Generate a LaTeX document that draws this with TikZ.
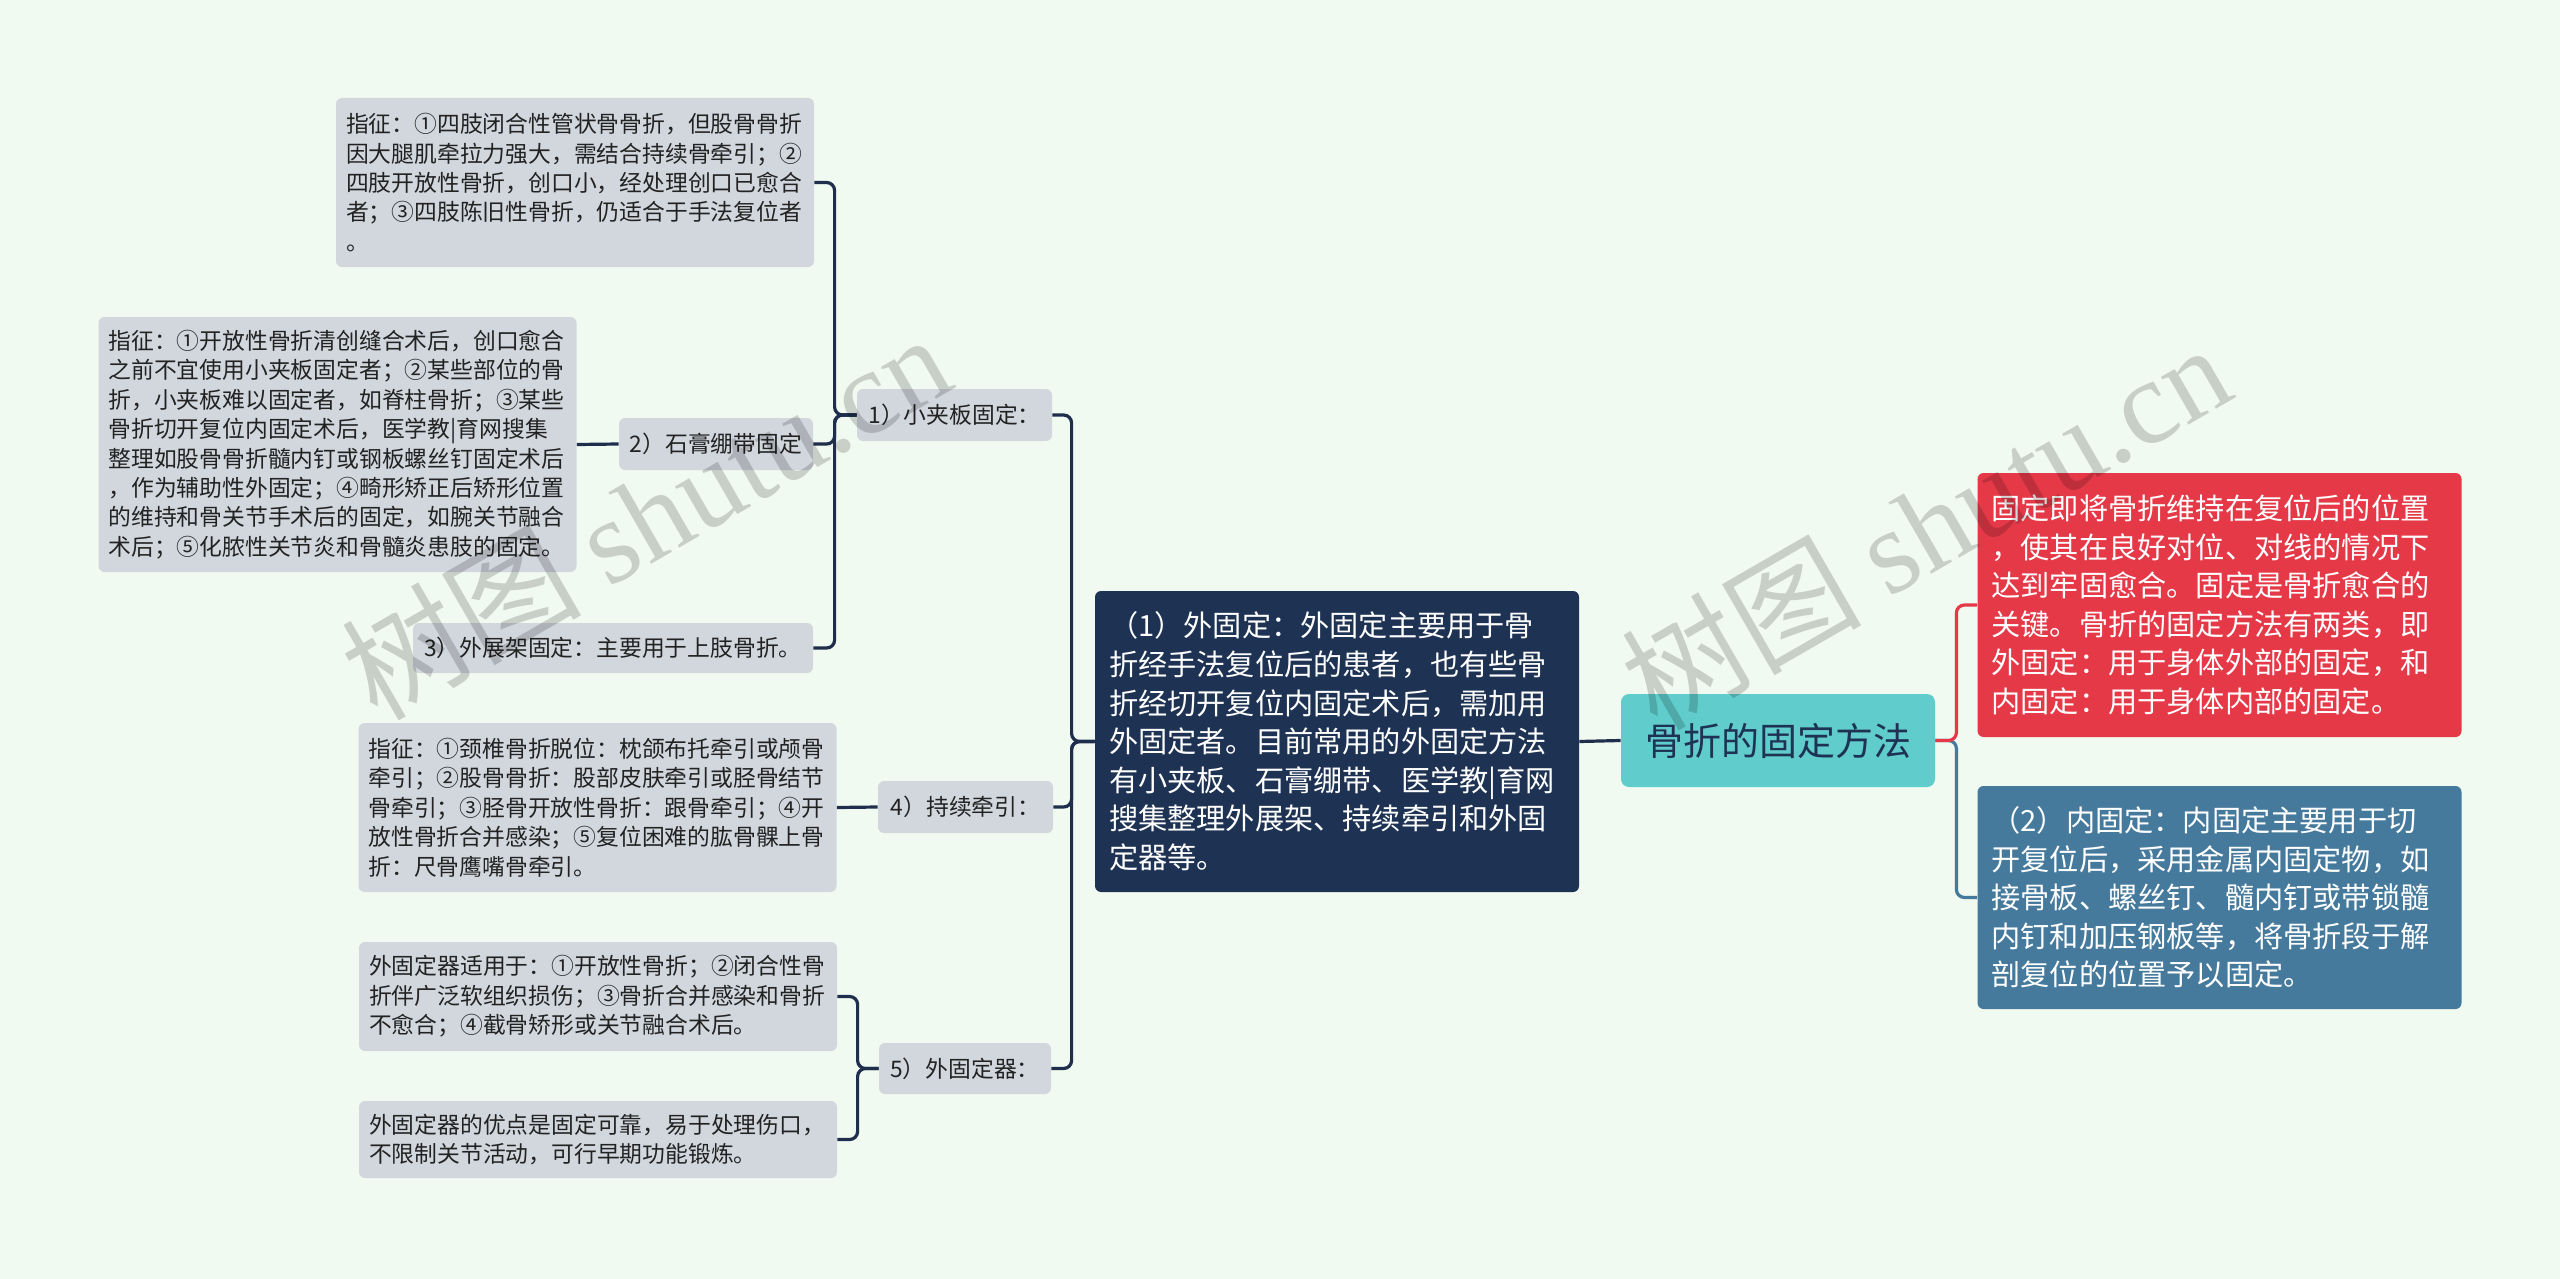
\documentclass[tikz,border=0pt]{standalone}
\usepackage{fontspec}
\setmainfont{Noto Sans CJK SC}
\newfontfamily\wmserif{Liberation Serif}
\usepackage{tikz}
\usetikzlibrary{positioning,calc}

\definecolor{bgmint}{RGB}{241,250,240}
\definecolor{leafgrey}{RGB}{210,215,222}
\definecolor{inkdark}{RGB}{34,34,34}
\definecolor{navy}{RGB}{30,51,84}
\definecolor{linknavy}{RGB}{30,46,76}
\definecolor{rootteal}{RGB}{97,204,204}
\definecolor{defred}{RGB}{230,57,72}
\definecolor{intblue}{RGB}{70,122,157}

\begin{document}
\begin{tikzpicture}[x=0.5pt,y=-0.5pt,
  leaf/.style={fill=leafgrey, rounded corners=3pt, text=inkdark, align=left,
    font=\fontsize{11.4}{14.7}\selectfont, inner xsep=5pt, inner ysep=0pt, text width=229pt},
  tag/.style={fill=leafgrey, rounded corners=3pt, text=inkdark, align=center,
    font=\fontsize{11.4}{14.7}\selectfont, inner sep=0pt},
  big/.style={rounded corners=3pt, text=white, align=left,
    font=\fontsize{14.6}{19.3}\selectfont, inner xsep=7pt, inner ysep=0pt, text width=228pt},
  link/.style={draw=linknavy, line width=1.6pt, rounded corners=4pt},
  wm/.style={text=black, text opacity=0.17, font=\fontsize{60}{60}\selectfont, rotate=30}]

\useasboundingbox (0,0) rectangle (2560,1279);
\fill[bgmint] (0,0) rectangle (2560,1279);

\node[fill=rootteal, rounded corners=4pt, text=navy, minimum width=157pt, minimum height=46.5pt,
  inner sep=0pt, font=\fontsize{19}{24}\selectfont] (root) at (1778,740.5) {骨折的固定方法};

\node[big, fill=navy, minimum height=150.5pt] (ext) at (1337,741.5) {（1）外固定：外固定主要用于骨\\折经手法复位后的患者，也有些骨\\折经切开复位内固定术后，需加用\\外固定者。目前常用的外固定方法\\有小夹板、石膏绷带、医学教|育网\\搜集整理外展架、持续牵引和外固\\定器等。};
\node[big, fill=defred, minimum height=132pt] (def) at (2219.5,605) {固定即将骨折维持在复位后的位置\\，使其在良好对位、对线的情况下\\达到牢固愈合。固定是骨折愈合的\\关键。骨折的固定方法有两类，即\\外固定：用于身体外部的固定，和\\内固定：用于身体内部的固定。};
\node[big, fill=intblue, minimum height=111.5pt] (intf) at (2219.5,897.5) {（2）内固定：内固定主要用于切\\开复位后，采用金属内固定物，如\\接骨板、螺丝钉、髓内钉或带锁髓\\内钉和加压钢板等，将骨折段于解\\剖复位的位置予以固定。};

\node[tag, minimum width=97.5pt, minimum height=26pt] (n1) at (954.5,415) {1）小夹板固定：};
\node[tag, minimum width=97pt, minimum height=26pt] (n2) at (716,444) {2）石膏绷带固定};
\node[tag, minimum width=200pt, minimum height=25pt] (n3) at (613,648) {3）外展架固定：主要用于上肢骨折。};
\node[tag, minimum width=87.5pt, minimum height=26pt] (n4) at (965.5,807) {4）持续牵引：};
\node[tag, minimum width=86pt, minimum height=25.5pt] (n5) at (965,1068.5) {5）外固定器：};

\node[leaf, minimum height=84.5pt] (ind1) at (575,182.5) {指征：①四肢闭合性管状骨骨折，但股骨骨折\\因大腿肌牵拉力强大，需结合持续骨牵引；②\\四肢开放性骨折，创口小，经处理创口已愈合\\者；③四肢陈旧性骨折，仍适合于手法复位者\\。};
\node[leaf, minimum height=127.5pt] (ind2) at (337.5,444.5) {指征：①开放性骨折清创缝合术后，创口愈合\\之前不宜使用小夹板固定者；②某些部位的骨\\折，小夹板难以固定者，如脊柱骨折；③某些\\骨折切开复位内固定术后，医学教|育网搜集\\整理如股骨骨折髓内钉或钢板螺丝钉固定术后\\，作为辅助性外固定；④畸形矫正后矫形位置\\的维持和骨关节手术后的固定，如腕关节融合\\术后；⑤化脓性关节炎和骨髓炎患肢的固定。};
\node[leaf, minimum height=84.5pt] (ind4) at (597.5,807.5) {指征：①颈椎骨折脱位：枕颌布托牵引或颅骨\\牵引；②股骨骨折：股部皮肤牵引或胫骨结节\\骨牵引；③胫骨开放性骨折：跟骨牵引；④开\\放性骨折合并感染；⑤复位困难的肱骨髁上骨\\折：尺骨鹰嘴骨牵引。};
\node[leaf, minimum height=54.5pt] (use5) at (598,996.5) {外固定器适用于：①开放性骨折；②闭合性骨\\折伴广泛软组织损伤；③骨折合并感染和骨折\\不愈合；④截骨矫形或关节融合术后。};
\node[leaf, minimum height=38.5pt] (adv5) at (598,1139.5) {外固定器的优点是固定可靠，易于处理伤口，\\不限制关节活动，可行早期功能锻炼。};

\draw[link] (ext.east) -- (root.west);
\draw[link, draw=intblue] (root.east) -- ++(21,0) |- (intf.west);
\draw[link, draw=defred] (root.east) -- ++(21,0) |- (def.west);
\draw[link] (ext.west) -- ++(-23,0) |- (n1.east);
\draw[link] (ext.west) -- ++(-23,0) |- (n4.east);
\draw[link] (ext.west) -- ++(-23,0) |- (n5.east);
\draw[link] (n1.west) -- ++(-22,0) |- (ind1.east);
\draw[link] (n1.west) -- ++(-22,0) |- (n2.east);
\draw[link] (n1.west) -- ++(-22,0) |- (n3.east);
\draw[link] (n2.west) -- (ind2.east);
\draw[link] (n4.west) -- (ind4.east);
\draw[link] (n5.west) -- ++(-21,0) |- (use5.east);
\draw[link] (n5.west) -- ++(-21,0) |- (adv5.east);

\node[wm] (wm1) at (645,515) {树图 {\wmserif shutu.cn}};
\node[wm] (wm2) at (1925,525) {树图 {\wmserif shutu.cn}};
\end{tikzpicture}
\end{document}
